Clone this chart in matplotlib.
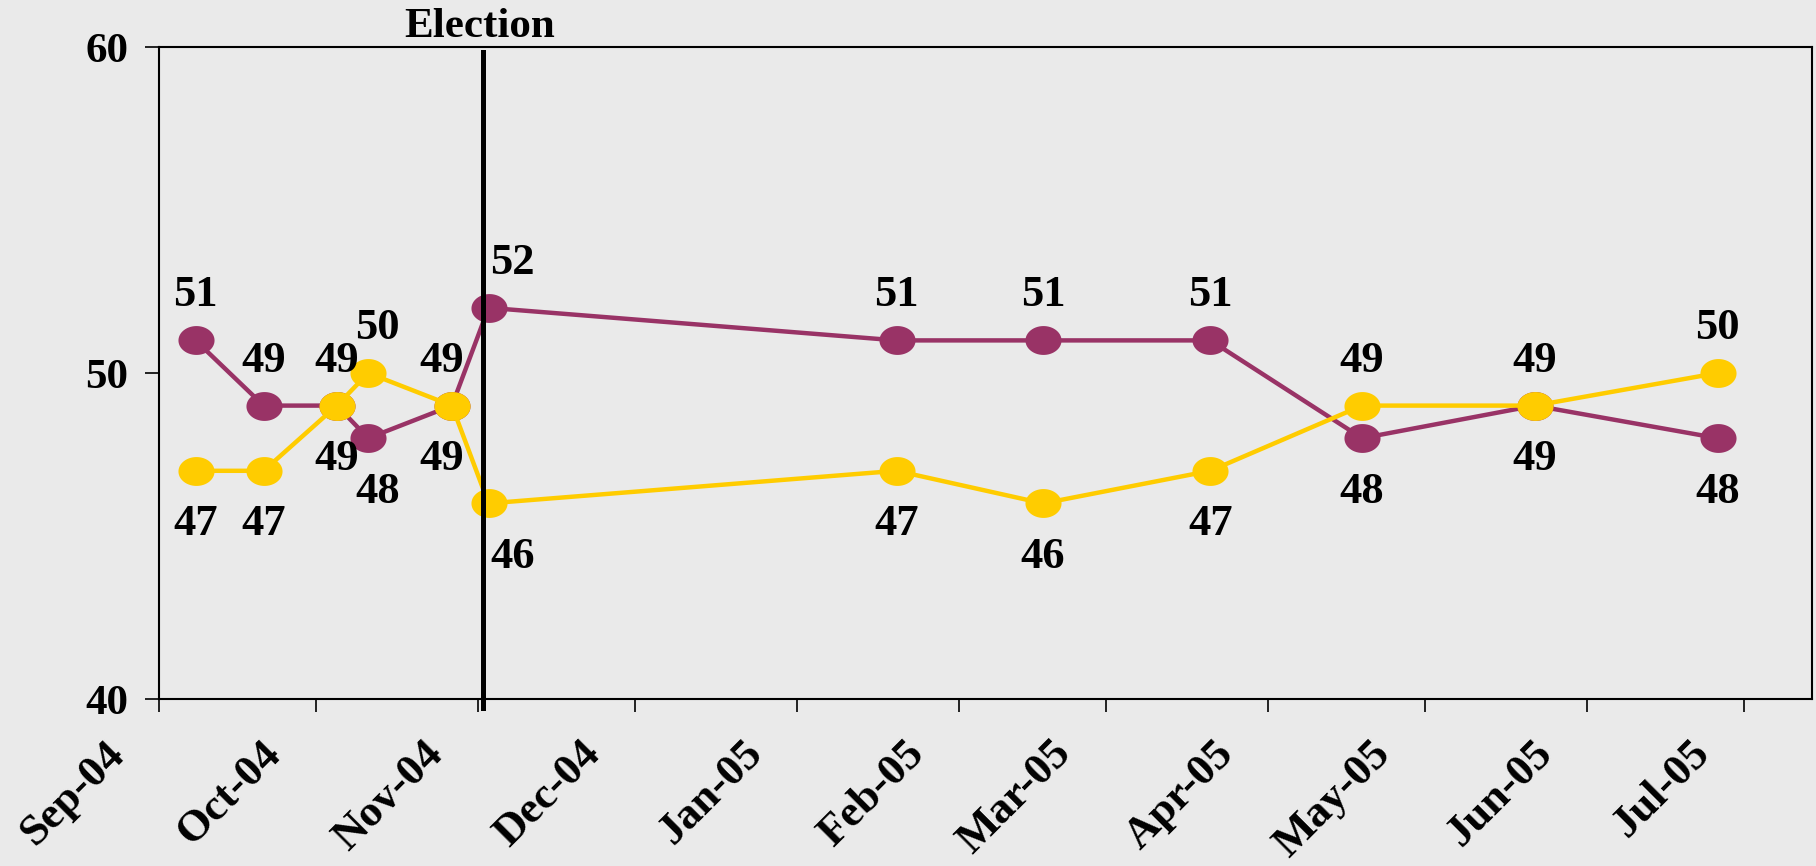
import matplotlib
matplotlib.use("Agg")
import matplotlib.pyplot as plt
import matplotlib.dates as mdates
import matplotlib.transforms as mtransforms
import numpy as np
import pandas as pd
from matplotlib.path import Path

# poll dates and results
POLL_DATES = ["2004-09-08", "2004-09-21", "2004-10-05", "2004-10-11", "2004-10-27", "2004-11-03",
              "2005-01-20", "2005-02-17", "2005-03-21", "2005-04-19", "2005-05-22", "2005-06-26"]
PURPLE_VALUES = [51, 49, 49, 48, 49, 52, 51, 51, 51, 48, 49, 48]
YELLOW_VALUES = [47, 47, 49, 50, 49, 46, 47, 46, 47, 49, 49, 50]
ELECTION_DATE = "2004-11-02"
X_START, X_END = "2004-09-01", "2005-07-14"
Y_TICKS = [40, 50, 60]

PURPLE = "#993366"
YELLOW = "#FFCC00"
BG = "#EAEAEA"
SERIF = ["Liberation Serif", "DejaVu Serif"]

# small horizontal nudges (px) for a few labels, by point index
LABEL_NUDGE = {5: 24, 3: 9, 4: -10}


def ellipse_marker(aspect=1.25):
    t = np.linspace(0, 2 * np.pi, 60)
    verts = np.column_stack([aspect * np.cos(t), np.sin(t)])
    return Path(verts, closed=True)


def main():
    plt.rcParams["font.family"] = SERIF
    plt.rcParams["font.weight"] = "bold"

    dates = pd.to_datetime(POLL_DATES)
    fig = plt.figure(figsize=(18.16, 8.66), dpi=100, facecolor=BG)
    ax = fig.add_axes([159 / 1816, 167 / 866, 1653 / 1816, 652 / 866], facecolor=BG)

    marker = ellipse_marker()
    ax.plot(dates, PURPLE_VALUES, color=PURPLE, lw=3.2, marker=marker, ms=26,
            markeredgewidth=0, zorder=3)
    ax.plot(dates, YELLOW_VALUES, color=YELLOW, lw=3.2, marker=marker, ms=26,
            markeredgewidth=0, zorder=4)

    # value labels: higher series above, lower below
    for i, (d, p, y) in enumerate(zip(dates, PURPLE_VALUES, YELLOW_VALUES)):
        dx = LABEL_NUDGE.get(i, 0) * 0.72
        for val, up in ((p, p >= y), (y, y > p)):
            ax.annotate(str(val), (d, val), xytext=(dx, 18 if up else -24),
                        textcoords="offset points", ha="center",
                        va="bottom" if up else "top", fontsize=32,
                        fontweight="bold", zorder=6)

    # election marker
    elec = mdates.date2num(pd.Timestamp(ELECTION_DATE))
    trans = mtransforms.blended_transform_factory(ax.transData, ax.transAxes)
    ax.plot([elec, elec], [-0.014, 0.992], transform=trans, color="black", lw=3.6,
            clip_on=False, zorder=5)
    ax.annotate("Election", (elec, 1.0), xycoords=trans, xytext=(-3, 7),
                textcoords="offset points", ha="center", va="baseline",
                fontsize=31, fontweight="bold")

    ax.set_xlim(pd.Timestamp(X_START), pd.Timestamp(X_END))
    ax.set_ylim(Y_TICKS[0], Y_TICKS[-1])
    ax.set_yticks(Y_TICKS)
    ax.xaxis.set_major_locator(mdates.MonthLocator())
    ax.xaxis.set_major_formatter(mdates.DateFormatter("%b-%y"))

    for s in ax.spines.values():
        s.set_linewidth(1.5)
        s.set_color("black")

    ax.tick_params(axis="y", direction="out", length=10, width=1.2, pad=12, labelsize=31)
    ax.tick_params(axis="x", direction="out", length=9, width=1.2, pad=2, labelsize=32)

    offset = mtransforms.ScaledTranslation(-0.55, -0.19, fig.dpi_scale_trans)
    for lab in ax.get_xticklabels():
        lab.set_rotation(45)
        lab.set_rotation_mode("anchor")
        lab.set_ha("right")
        lab.set_va("top")
        lab.set_fontweight("bold")
        lab.set_transform(lab.get_transform() + offset)
    for lab in ax.get_yticklabels():
        lab.set_fontweight("bold")

    fig.savefig("out.png", dpi=100, facecolor=BG)
    plt.close(fig)


if __name__ == "__main__":
    main()
